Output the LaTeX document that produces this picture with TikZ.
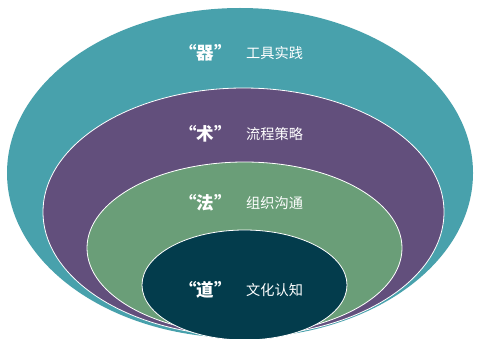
\documentclass[tikz,border=0pt]{standalone}
\usepackage{fontspec}
\newfontfamily\cjk{Noto Sans CJK SC}
\definecolor{cteal}{HTML}{48A1AC}
\definecolor{cpurple}{HTML}{624F7C}
\definecolor{cgreen}{HTML}{6A9E78}
\definecolor{cdark}{HTML}{033C4C}
\tikzset{
  ring/.style={draw=white, line width=0.8pt},
  key/.style={anchor=east, text=white, font=\cjk\bfseries\fontsize{17.5}{17.5}\selectfont, inner sep=0pt},
  desc/.style={anchor=west, text=white, font=\cjk\fontsize{14.2}{14.2}\selectfont, inner sep=0pt}
}
\begin{document}
\begin{tikzpicture}[x=1pt,y=1pt]
\useasboundingbox (0,0) rectangle (478,338);
\clip (0,0) rectangle (478,338);
\fill[white] (0,0) rectangle (478,338);
\fill[cteal] (240,165) ellipse [x radius=233, y radius=165];
\fill[cpurple, ring] (243.5,126) ellipse [x radius=200.5, y radius=124];
\fill[cgreen, ring] (244.5,90) ellipse [x radius=157.5, y radius=86];
\fill[cdark, ring] (244.5,53) ellipse [x radius=102.5, y radius=55];
\node[key] (k1) at (232,285) {“器”};
\node[desc] (d1) at (246,285) {工具实践};
\node[key] (k2) at (232,204) {“术”};
\node[desc] (d2) at (246,204) {流程策略};
\node[key] (k3) at (232,135) {“法”};
\node[desc] (d3) at (246,135) {组织沟通};
\node[key] (k4) at (232,48) {“道”};
\node[desc] (d4) at (246,48) {文化认知};
\end{tikzpicture}
\end{document}
